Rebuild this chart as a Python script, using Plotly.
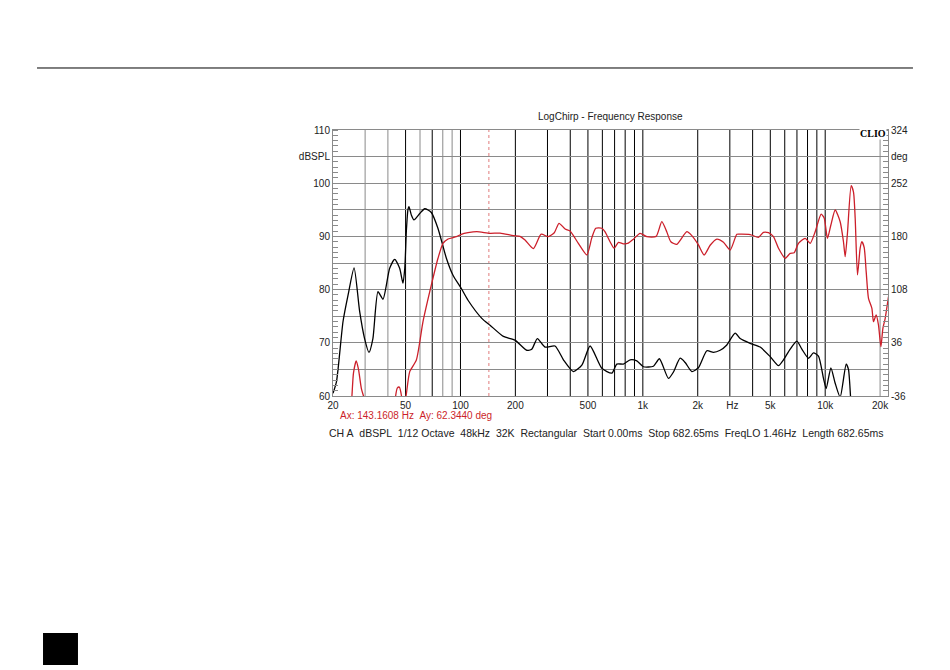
import plotly.graph_objects as go
import numpy as np

# ---- data ----
spl_freq = [20.0, 20.9, 22.7, 24.2, 26.1, 28.0, 29.8, 31.5, 33.1, 35.3, 37.6, 40.9, 43.6, 46.4, 48.4,
            49.5, 50.5, 51.5, 52.2, 53.8, 55.6, 59.8, 63.7, 69.2, 75.3, 83.7, 91.0, 101.1, 110.0, 130.9,
            145.3, 171.9, 199.0, 231.0, 246.0, 264.0, 291.0, 330.0, 367.0, 416.0, 463.0, 514.0, 596.0,
            676.0, 720.0, 782.0, 852.0, 927.0, 1007.0, 1143.0, 1233.0, 1382.0, 1471.0, 1602.0, 1706.0,
            1857.0, 2018.0, 2244.0, 2439.0, 2654.0, 2888.0, 3208.0, 3418.0, 3878.0, 4400.0, 4992.0,
            5544.0, 5904.0, 6426.0, 6992.0, 7450.0, 8098.0, 8624.0, 9186.0, 9786.0, 10126.0, 10744.0,
            11344.0, 12080.0, 13032.0, 13416.0, 13830.0, 14238.0, 16000.0, 22100.0]
spl_db = [60.5, 62.7, 74.0, 79.0, 84.1, 75.9, 70.8, 68.2, 70.8, 79.6, 78.2, 84.0, 85.7, 84.0, 81.2,
          84.0, 91.0, 95.0, 95.6, 94.0, 93.1, 94.3, 95.2, 94.5, 91.5, 85.9, 82.7, 80.2, 78.0, 74.6,
          73.3, 71.2, 70.5, 68.6, 68.8, 70.8, 69.2, 69.4, 66.8, 64.6, 65.8, 69.4, 65.2,
          64.3, 66.0, 66.0, 66.8, 66.6, 65.5, 65.6, 67.0, 63.3, 64.5, 67.1, 66.3,
          64.6, 65.3, 68.5, 68.2, 68.6, 69.6, 71.8, 70.8, 69.9, 69.2, 67.4,
          65.7, 66.8, 68.8, 70.3, 68.8, 67.1, 68.1, 67.5, 63.3, 61.4, 65.3,
          62.4, 59.8, 66.0, 65.0, 59.0, 55.0, 52.0, 50.0]

phase_freq = [20.0, 24.8, 25.4, 25.9, 26.8, 27.6, 28.6, 30.1, 32.0, 43.0, 44.1, 45.1, 46.2, 47.5, 48.4,
              50.5, 52.7, 57.3, 62.3, 69.2, 75.3, 80.2, 85.5, 94.9, 101.0, 110.0, 122.9, 145.3, 164.9,
              195.0, 212.0, 226.0, 251.0, 277.0, 303.0, 327.0, 347.0, 375.0, 399.0, 443.0, 493.0, 525.0,
              552.0, 596.0, 621.0, 661.0, 696.0, 735.0, 782.0, 833.0, 888.0, 966.0, 1052.0, 1183.0,
              1271.0, 1354.0, 1424.0, 1536.0, 1743.0, 1857.0, 2018.0, 2168.0, 2339.0, 2546.0, 2768.0,
              3012.0, 3278.0, 3418.0, 3878.0, 4306.0, 4586.0, 4886.0, 5204.0, 5544.0, 6034.0, 6426.0,
              6758.0, 7134.0, 7766.0, 8272.0, 8812.0, 9504.0, 9872.0, 10292.0, 10744.0, 11344.0, 12080.0,
              12596.0, 12870.0, 13252.0, 13884.0, 14294.0, 14604.0, 15034.0, 15552.0, 15892.0, 16360.0,
              16778.0, 17274.0, 18032.0, 18402.0, 19038.0, 19598.0, 20204.0, 20720.0, 21332.0, 22240.0]
phase_deg = [-80, -70, -36, -5, 11.4, 0, -25.6, -45, -80, -80, -36, -25, -24, -36, -60,
             -33, -3, 12.7, 64.6, 114, 150.4, 170.6, 176.5, 179.6, 182.8, 185, 186.4, 184.2, 184.5,
             181, 180, 175, 163.5, 183, 179.6, 185, 197.7, 190, 187.3, 170.6, 155, 178,
             191, 191, 186, 172.8, 164, 172, 170, 171, 176.3, 184.2, 179.6, 180,
             199.9, 186, 172.8, 169.3, 186.4, 181, 168.4, 154.8, 168, 176.3, 172,
             161.6, 182.8, 183, 182.5, 178.8, 185.5, 185, 179.6, 164, 150.4, 157,
             158, 170.6, 177.4, 170.6, 186.4, 210, 205, 177.4, 195.4, 215.7, 199.9,
             172.8, 152.5, 185, 248.6, 240, 204.5, 127.8, 164, 172.8, 165,
             132.3, 96.2, 82.7, 64.6, 73.6, 60.1, 30.7, 55.6, 69.2, 98.4]

cursor_freq = 143.1608
cursor_val = 62.3440

x_tick_vals = [20, 50, 100, 200, 500, 1000, 2000, 3100, 5000, 10000, 20000]
x_tick_text = ["20", "50", "100", "200", "500", "1k", "2k", "Hz", "5k", "10k", "20k"]
grid_dark = [50, 70, 100, 200, 300, 400, 500, 600, 700, 800, 900, 1000,
             2000, 3000, 4000, 5000, 6000, 7000, 8000, 9000, 10000]
grid_light = [30, 40, 60, 80, 90, 20000]

y_tick_vals = [60, 65, 70, 75, 80, 85, 90, 95, 100, 105, 110]
y_tick_text = ["60", "", "70", "", "80", "", "90", "", "100", "dBSPL", "110"]
y2_tick_vals = [-36, 0, 36, 72, 108, 144, 180, 216, 252, 288, 324]
y2_tick_text = ["-36", "", "36", "", "108", "", "180", "", "252", "deg", "324"]

FONT = "Liberation Sans, Arial, sans-serif"
GRID = "#8a8a8a"
RED = "#cc1f2a"

fig = go.Figure()
fig.add_trace(go.Scatter(x=spl_freq, y=spl_db, mode="lines",
                         line=dict(color="#000000", width=1.3, shape="spline", smoothing=0.6),
                         yaxis="y", showlegend=False, hoverinfo="skip"))
fig.add_trace(go.Scatter(x=phase_freq, y=phase_deg, mode="lines",
                         line=dict(color=RED, width=1.3, shape="spline", smoothing=0.6),
                         yaxis="y2", showlegend=False, hoverinfo="skip"))

shapes = []
for f in grid_dark:
    shapes.append(dict(type="line", xref="x", yref="paper", x0=f, x1=f, y0=0, y1=1,
                       line=dict(color="#000000", width=1), layer="below"))
for f in grid_light:
    shapes.append(dict(type="line", xref="x", yref="paper", x0=f, x1=f, y0=0, y1=1,
                       line=dict(color=GRID, width=1), layer="below"))
shapes.append(dict(type="line", xref="x", yref="paper", x0=cursor_freq, x1=cursor_freq, y0=0, y1=1,
                   line=dict(color="#e07a7a", width=1, dash="dot"), layer="below"))
# page decorations
shapes.append(dict(type="line", xref="paper", yref="paper", x0=-0.5333, x1=1.045, y0=1.2331, y1=1.2331,
                   line=dict(color="#000000", width=1)))
shapes.append(dict(type="rect", xref="paper", yref="paper", x0=-0.5225, x1=-0.4595, y0=-1.0113, y1=-0.891,
                   line=dict(width=0), fillcolor="#000000"))

NB = "\u00a0"
info = (NB * 2).join(["CH A", "dBSPL", "1/12 Octave", "48kHz", "32K", "Rectangular", "Start 0.00ms",
                      "Stop 682.65ms", "FreqLO 1.46Hz", "Length 682.65ms"])
annotations = [
    dict(text="LogChirp - Frequency Response", xref="paper", yref="paper", x=0.5, y=1.049,
         xanchor="center", yanchor="middle", showarrow=False, font=dict(size=10, color="#222", family=FONT)),
    dict(text="<b>CLIO</b>", xref="paper", yref="paper", x=0.9985, y=0.988, xanchor="right", yanchor="middle",
         showarrow=False, bgcolor="#ffffff", borderpad=0,
         font=dict(size=10, color="#000", family="Liberation Serif, Times New Roman, serif")),
    dict(text=f"Ax: {cursor_freq:.4f} Hz{NB*2}Ay: {cursor_val:.4f} deg", xref="paper", yref="paper",
         x=0.009, y=-0.075, xanchor="left", yanchor="middle", showarrow=False,
         font=dict(size=10, color=RED, family=FONT)),
    dict(text=info, xref="paper", yref="paper", x=0.492, y=-0.139, xanchor="center", yanchor="middle",
         showarrow=False, font=dict(size=10.5, color="#222", family=FONT)),
]

fig.update_layout(
    width=950, height=670,
    margin=dict(l=325, r=70, t=122, b=282),
    paper_bgcolor="#ffffff", plot_bgcolor="#ffffff",
    font=dict(family=FONT, size=10, color="#222"),
    shapes=shapes, annotations=annotations,
    xaxis=dict(type="log", range=[np.log10(20), np.log10(22100)], tickmode="array",
               tickvals=x_tick_vals, ticktext=x_tick_text, showgrid=False, ticks="",
               showline=True, linecolor=GRID, linewidth=1, mirror=True, zeroline=False,
               tickfont=dict(size=10, color="#222")),
    yaxis=dict(range=[60, 110], tickmode="array", tickvals=y_tick_vals, ticktext=y_tick_text,
               showgrid=True, gridcolor=GRID, gridwidth=1, ticks="", zeroline=False,
               showline=True, linecolor=GRID, linewidth=1,
               minor=dict(dtick=1, tick0=60, ticks="inside", ticklen=5, tickcolor=GRID, showgrid=False),
               tickfont=dict(size=10, color="#222")),
    yaxis2=dict(range=[-36, 324], overlaying="y", side="right", tickmode="array",
                tickvals=y2_tick_vals, ticktext=y2_tick_text, showgrid=False, ticks="", zeroline=False,
                showline=True, linecolor=GRID, linewidth=1,
                minor=dict(dtick=7.2, tick0=-36, ticks="inside", ticklen=5, tickcolor=GRID, showgrid=False),
                tickfont=dict(size=10, color="#222")),
)

fig.write_html("out.html")
